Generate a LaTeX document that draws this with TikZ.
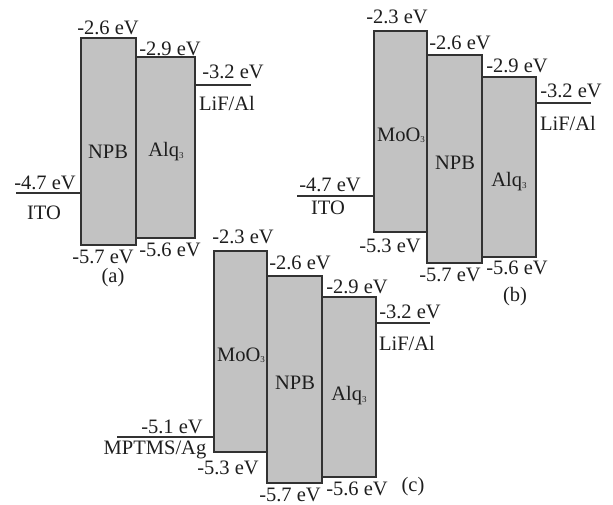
\documentclass[tikz,border=0pt]{standalone}
\usepackage{fontspec}
\setmainfont{Liberation Serif}
\definecolor{boxfill}{RGB}{194,194,194}
\definecolor{edge}{RGB}{50,50,50}
\definecolor{ink}{RGB}{30,30,30}
\newcommand{\sub}[1]{\raisebox{-0.06em}{\fontsize{9}{9}\selectfont #1}}
\tikzset{
  layer/.style={draw=edge, fill=boxfill, line width=1.2pt, inner sep=0pt, outer sep=0pt, anchor=north west},
  level/.style={draw=edge, line width=1.3pt},
  lab/.style={text=ink, inner sep=0pt, font=\fontsize{20.5}{24}\selectfont},
}
\begin{document}
\begin{tikzpicture}[x=1pt,y=-1pt]
\useasboundingbox (0,0) rectangle (613,505);
% ---------- (a)
\node[layer, minimum width=55pt, minimum height=207pt] (aNPB) at (81,38) {};
\node[layer, minimum width=59pt, minimum height=181pt] (aAlq) at (136,57) {};
\coordinate (aITO) at (16,193);
\coordinate (aLiF) at (251,85);
\draw[level] (aITO) -- (aITO -| aNPB.west);
\draw[level] (aAlq.east |- aLiF) -- (aLiF);
\node[lab] (aNPBt) at (108,152) {NPB};
\node[lab] (aAlqt) at (166,152) {Alq\sub{3}};
\node[lab] (a1) at (108,28) {-2.6 eV};
\node[lab] (a2) at (170,49) {-2.9 eV};
\node[lab] (a3) at (233,72) {-3.2 eV};
\node[lab] (a4) at (227,103) {LiF/Al};
\node[lab] (a5) at (45,183) {-4.7 eV};
\node[lab] (a6) at (44,213) {ITO};
\node[lab] (a7) at (103,257) {-5.7 eV};
\node[lab] (a8) at (170,250) {-5.6 eV};
\node[lab] (acap) at (113,278) {(a)};
% ---------- (b)
\node[layer, minimum width=53pt, minimum height=201pt] (bMoO) at (374,31) {};
\node[layer, minimum width=55pt, minimum height=208pt] (bNPB) at (427,55) {};
\node[layer, minimum width=54pt, minimum height=180pt] (bAlq) at (482,77) {};
\coordinate (bITO) at (297,196);
\coordinate (bLiF) at (591,103);
\draw[level] (bITO) -- (bITO -| bMoO.west);
\draw[level] (bAlq.east |- bLiF) -- (bLiF);
\node[lab] (bMoOt) at (401,135) {MoO\sub{3}};
\node[lab] (bNPBt) at (455,163) {NPB};
\node[lab] (bAlqt) at (509,182) {Alq\sub{3}};
\node[lab] (b1) at (397,17) {-2.3 eV};
\node[lab] (b2) at (460,43) {-2.6 eV};
\node[lab] (b3) at (517,66) {-2.9 eV};
\node[lab] (b4) at (571,91) {-3.2 eV};
\node[lab] (b5) at (568,123) {LiF/Al};
\node[lab] (b6) at (330,185) {-4.7 eV};
\node[lab] (b7) at (328,208) {ITO};
\node[lab] (b8) at (390,246) {-5.3 eV};
\node[lab] (b9) at (450,275) {-5.7 eV};
\node[lab] (b10) at (517,268) {-5.6 eV};
\node[lab] (bcap) at (515,297) {(b)};
% ---------- (c)
\node[layer, minimum width=53pt, minimum height=201pt] (cMoO) at (214,251) {};
\node[layer, minimum width=55pt, minimum height=207pt] (cNPB) at (267,276) {};
\node[layer, minimum width=54pt, minimum height=180pt] (cAlq) at (322,297) {};
\coordinate (cAg) at (117,437);
\coordinate (cLiF) at (430,323);
\draw[level] (cAg) -- (cAg -| cMoO.west);
\draw[level] (cAlq.east |- cLiF) -- (cLiF);
\node[lab] (cMoOt) at (241,355) {MoO\sub{3}};
\node[lab] (cNPBt) at (295,383) {NPB};
\node[lab] (cAlqt) at (349,396) {Alq\sub{3}};
\node[lab] (c1) at (243,237) {-2.3 eV};
\node[lab] (c2) at (300,263) {-2.6 eV};
\node[lab] (c3) at (357,287) {-2.9 eV};
\node[lab] (c4) at (410,312) {-3.2 eV};
\node[lab] (c5) at (407,343) {LiF/Al};
\node[lab] (c6) at (172,427) {-5.1 eV};
\node[lab] (c7) at (155,450) {MPTMS/Ag};
\node[lab] (c8) at (228,468) {-5.3 eV};
\node[lab] (c9) at (290,495) {-5.7 eV};
\node[lab] (c10) at (357,489) {-5.6 eV};
\node[lab] (ccap) at (413,487) {(c)};
\end{tikzpicture}
\end{document}
